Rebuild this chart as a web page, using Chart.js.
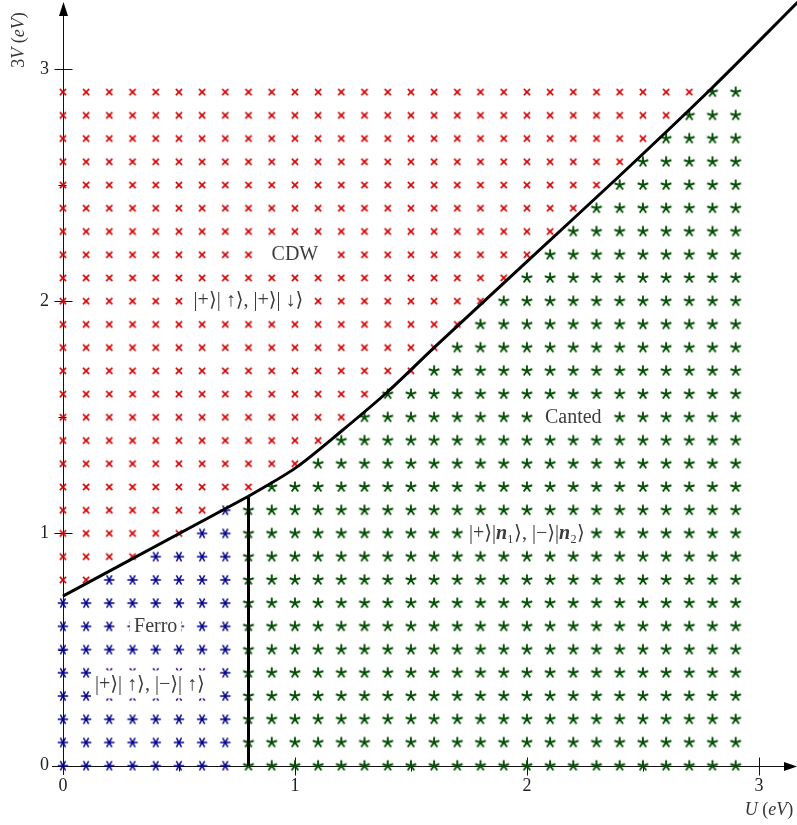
<!DOCTYPE html>
<html>
<head>
<meta charset="utf-8">
<script src="https://cdn.jsdelivr.net/npm/chart.js@4.4.0/dist/chart.umd.min.js"></script>
<style>
  html, body { margin: 0; padding: 0; background: #fff; }
</style>
</head>
<body>
<canvas id="phase" width="797" height="825"></canvas>
<script>
// grid of computed points
const uValues = [0, 0.1, 0.2, 0.3, 0.4, 0.5, 0.6, 0.7, 0.8, 0.9,
  1.0, 1.1, 1.2, 1.3, 1.4, 1.5, 1.6, 1.7, 1.8, 1.9,
  2.0, 2.1, 2.2, 2.3, 2.4, 2.5, 2.6, 2.7, 2.8, 2.9];
const vValues = [0, 0.1, 0.2, 0.3, 0.4, 0.5, 0.6, 0.7, 0.8, 0.9,
  1.0, 1.1, 1.2, 1.3, 1.4, 1.5, 1.6, 1.7, 1.8, 1.9,
  2.0, 2.1, 2.2, 2.3, 2.4, 2.5, 2.6, 2.7, 2.8, 2.9];
// for each U column: index in vValues of the lowest CDW point (30 = none)
const cdwStartRow = [8, 8, 9, 9, 10, 10, 11, 12, 12, 13,
  13, 14, 15, 16, 17, 17, 18, 19, 20, 21,
  22, 23, 24, 25, 26, 27, 28, 29, 30, 30];
// columns with U below this index are Ferro under the CDW line, the rest Canted
const ferroColumns = 8;

// phase boundaries (U, 3V)
const ferroCdwLine = [{ x: 0, y: 0.73 }, { x: 0.8, y: 1.16 }];
const ferroCantedLine = [{ x: 0.8, y: 0 }, { x: 0.8, y: 1.16 }];
const cdwCantedLine = [
  { x: 0.8, y: 1.16 }, { x: 1.0, y: 1.28 }, { x: 1.2, y: 1.44 },
  { x: 1.4, y: 1.61 }, { x: 1.6, y: 1.80 }, { x: 2.0, y: 2.17 },
  { x: 2.4, y: 2.54 }, { x: 2.8, y: 2.92 }, { x: 3.17, y: 3.29 },
];

const majorTicks = [1, 2, 3];
const minorTicks = [0.5, 1.5, 2.5];
const tickLabels = ["0", "1", "2", "3"];

const SERIF = "'Liberation Serif', 'DejaVu Serif', serif";

// split the grid into the three phases
const cdwPoints = [];
const ferroPoints = [];
const cantedPoints = [];
uValues.forEach(function (u, i) {
  vValues.forEach(function (v, j) {
    if (j >= cdwStartRow[i]) cdwPoints.push({ x: u, y: v });
    else if (i < ferroColumns) ferroPoints.push({ x: u, y: v });
    else cantedPoints.push({ x: u, y: v });
  });
});

function makeMarker(angles, r, color, width, throughCenter) {
  const c = document.createElement("canvas");
  c.width = 14;
  c.height = 14;
  const g = c.getContext("2d");
  g.translate(7, 7);
  g.strokeStyle = color;
  g.lineWidth = width;
  g.beginPath();
  angles.forEach(function (a) {
    const rad = (a * Math.PI) / 180;
    const dx = Math.cos(rad) * r;
    const dy = Math.sin(rad) * r;
    if (throughCenter) {
      g.moveTo(-dx, -dy);
    } else {
      g.moveTo(0, 0);
    }
    g.lineTo(dx, dy);
  });
  g.stroke();
  return c;
}

const crossMark = makeMarker([45, 135], 4.4, "#d40000", 1.6, true);
const asteriskMark = makeMarker([0, 60, 120], 5.2, "#00008c", 1.5, true);
const starMark = makeMarker([-90, -18, 54, 126, 198], 5.6, "#004e00", 1.9, false);

// text boxes, placed in data units
const annotations = [
  { u: 1.0, v: 2.2, parts: [["CDW", ""]] },
  { u: 0.8, v: 2.0, parts: [["|+⟩| ↑⟩, |+⟩| ↓⟩", ""]] },
  { u: 2.2, v: 1.5, parts: [["Canted", ""]] },
  {
    u: 2.0, v: 1.0,
    parts: [["|+⟩|", ""], ["n", "italic bold "], ["₁⟩, |−⟩|", ""], ["n", "italic bold "], ["₂⟩", ""]],
  },
  { u: 0.4, v: 0.6, parts: [["Ferro", ""]] },
  { u: 0.375, v: 0.35, parts: [["|+⟩| ↑⟩, |−⟩| ↑⟩", ""]] },
];

function drawParts(ctx, parts, cx, cy, size, color, box) {
  let total = 0;
  parts.forEach(function (p) {
    ctx.font = p[1] + size + "px " + SERIF;
    total += ctx.measureText(p[0]).width;
  });
  if (box) {
    ctx.fillStyle = "#fff";
    ctx.fillRect(cx - total / 2 - 4, cy - size * 0.7, total + 8, size * 1.4);
  }
  let x = cx - total / 2;
  ctx.fillStyle = color;
  ctx.textBaseline = "middle";
  ctx.textAlign = "left";
  parts.forEach(function (p) {
    ctx.font = p[1] + size + "px " + SERIF;
    ctx.fillText(p[0], x, cy);
    x += ctx.measureText(p[0]).width;
  });
}

const axesPlugin = {
  id: "axes",
  beforeDatasetsDraw(chart) {
    const ctx = chart.ctx;
    const xs = chart.scales.x;
    const ys = chart.scales.y;
    const x0 = Math.round(xs.getPixelForValue(0)) + 0.5;
    const y0 = Math.round(ys.getPixelForValue(0)) + 0.5;
    ctx.save();
    ctx.strokeStyle = "#111";
    ctx.fillStyle = "#000";
    ctx.lineWidth = 1;

    ctx.beginPath();
    ctx.moveTo(xs.left, y0);
    ctx.lineTo(chart.width - 4, y0);
    ctx.moveTo(x0, ys.bottom);
    ctx.lineTo(x0, 8);
    majorTicks.forEach(function (t) {
      const px = Math.round(xs.getPixelForValue(t)) + 0.5;
      const py = Math.round(ys.getPixelForValue(t)) + 0.5;
      ctx.moveTo(px, y0 - 9);
      ctx.lineTo(px, y0 + 9);
      ctx.moveTo(x0 - 9, py);
      ctx.lineTo(x0 + 9, py);
    });
    minorTicks.forEach(function (t) {
      const px = Math.round(xs.getPixelForValue(t)) + 0.5;
      const py = Math.round(ys.getPixelForValue(t)) + 0.5;
      ctx.moveTo(px, y0 - 3);
      ctx.lineTo(px, y0 + 5);
      ctx.moveTo(x0 - 5, py);
      ctx.lineTo(x0 + 3, py);
    });
    ctx.stroke();

    // arrow heads
    ctx.beginPath();
    ctx.moveTo(chart.width, y0);
    ctx.lineTo(chart.width - 13, y0 - 4.5);
    ctx.lineTo(chart.width - 13, y0 + 4.5);
    ctx.closePath();
    ctx.moveTo(x0, 2);
    ctx.lineTo(x0 - 4.5, 16);
    ctx.lineTo(x0 + 4.5, 16);
    ctx.closePath();
    ctx.fill();
    ctx.restore();
  },
  afterDatasetsDraw(chart) {
    const ctx = chart.ctx;
    const xs = chart.scales.x;
    const ys = chart.scales.y;
    const x0 = xs.getPixelForValue(0);
    const y0 = ys.getPixelForValue(0);
    ctx.save();

    annotations.forEach(function (a) {
      drawParts(ctx, a.parts, xs.getPixelForValue(a.u), ys.getPixelForValue(a.v), 20, "#3c3c3c", true);
    });

    // tick labels
    ctx.fillStyle = "#222";
    ctx.font = "18px " + SERIF;
    ctx.textBaseline = "middle";
    tickLabels.forEach(function (lab, i) {
      ctx.textAlign = "center";
      ctx.fillText(lab, xs.getPixelForValue(i), y0 + 21);
      ctx.textAlign = "right";
      ctx.fillText(lab, x0 - 14, ys.getPixelForValue(i));
    });

    // axis titles
    drawParts(ctx, [["U", "italic "], [" (", ""], ["eV", "italic "], [")", ""]],
      chart.width - 28, y0 + 45, 18, "#333", false);
    ctx.translate(19, 40);
    ctx.rotate(-Math.PI / 2);
    drawParts(ctx, [["3", ""], ["V", "italic "], [" (", ""], ["eV", "italic "], [")", ""]],
      0, 0, 18, "#333", false);
    ctx.restore();
  },
};

const lineStyle = {
  type: "line",
  borderColor: "#000",
  borderWidth: 3,
  pointRadius: 0,
  fill: false,
  clip: false,
  order: 0,
};

new Chart(document.getElementById("phase"), {
  type: "scatter",
  data: {
    datasets: [
      Object.assign({ label: "Ferro/CDW", data: ferroCdwLine }, lineStyle),
      Object.assign({ label: "Ferro/Canted", data: ferroCantedLine }, lineStyle),
      Object.assign({ label: "CDW/Canted", data: cdwCantedLine, tension: 0.3 }, lineStyle),
      { label: "CDW", data: cdwPoints, pointStyle: crossMark, pointRadius: 5, hoverRadius: 5, order: 1 },
      { label: "Ferro", data: ferroPoints, pointStyle: asteriskMark, pointRadius: 5, hoverRadius: 5, order: 1 },
      { label: "Canted", data: cantedPoints, pointStyle: starMark, pointRadius: 5, hoverRadius: 5, order: 1 },
    ],
  },
  options: {
    responsive: false,
    animation: false,
    layout: { autoPadding: false, padding: { left: 52, right: 1, top: 5, bottom: 50 } },
    scales: {
      x: { type: "linear", min: -0.047, max: 3.16, display: false },
      y: { type: "linear", min: -0.04, max: 3.275, display: false },
    },
    plugins: {
      legend: { display: false },
      tooltip: { enabled: false },
    },
  },
  plugins: [axesPlugin],
});
</script>
</body>
</html>
